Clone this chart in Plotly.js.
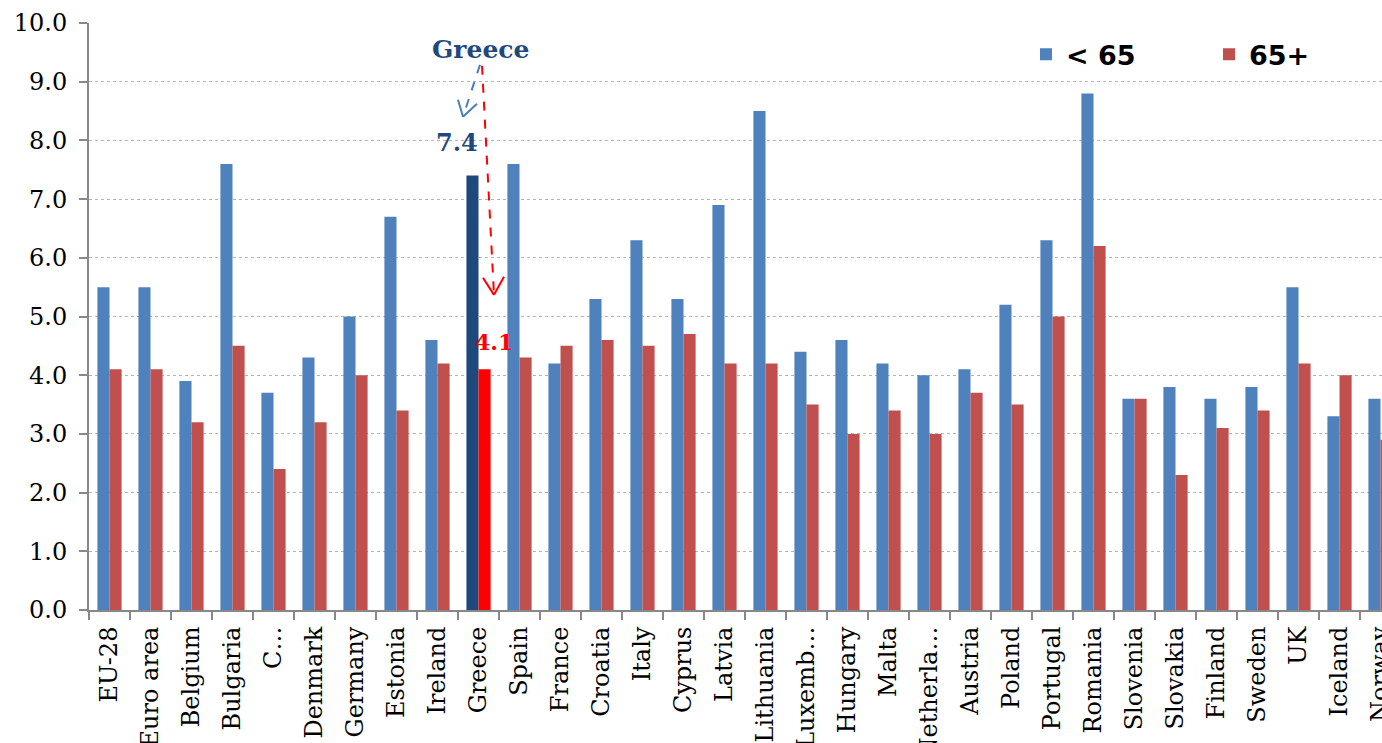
<!DOCTYPE html>
<html>
<head>
<meta charset="utf-8">
<script src="https://cdn.plot.ly/plotly-3.0.1.min.js"></script>
<style>
html,body{margin:0;padding:0;background:#fff;overflow:hidden;}
#chart{width:1382px;height:743px;}
</style>
</head>
<body>
<div id="chart"></div>
<script>
// ---- data ----
const categories = ["EU-28","Euro area","Belgium","Bulgaria","C\u2026","Denmark","Germany","Estonia","Ireland","Greece","Spain","France","Croatia","Italy","Cyprus","Latvia","Lithuania","Luxemb\u2026","Hungary","Malta","Netherla\u2026","Austria","Poland","Portugal","Romania","Slovenia","Slovakia","Finland","Sweden","UK","Iceland","Norway"];
const under65 = [5.5,5.5,3.9,7.6,3.7,4.3,5.0,6.7,4.6,7.4,7.6,4.2,5.3,6.3,5.3,6.9,8.5,4.4,4.6,4.2,4.0,4.1,5.2,6.3,8.8,3.6,3.8,3.6,3.8,5.5,3.3,3.6];
const over65  = [4.1,4.1,3.2,4.5,2.4,3.2,4.0,3.4,4.2,4.1,4.3,4.5,4.6,4.5,4.7,4.2,4.2,3.5,3.0,3.4,3.0,3.7,3.5,5.0,6.2,3.6,2.3,3.1,3.4,4.2,4.0,2.9];
const highlight = "Greece";
const seriesNames = ["&lt; 65","65+"];
const yTicks = [0,1,2,3,4,5,6,7,8,9,10];

// ---- styling ----
const BLUE = "#4F81BD", RED = "#C0504D", DBLUE = "#1F497D", BRED = "#FF0000";
const colU = categories.map(c => c === highlight ? DBLUE : BLUE);
const colO = categories.map(c => c === highlight ? BRED : RED);

// pixel helpers for annotation placement (plot: left 89, bottom 610, 41px/category, 58.67px/unit)
const L = 89, B = 610, CW = 41, UH = 586.7/10;
const px2x = p => (p - L)/CW - 0.5;
const py2y = p => (B - p)/UH;

const traces = [
  {type:"bar", x:categories, y:under65, name:seriesNames[0], marker:{color:colU}, hoverinfo:"none"},
  {type:"bar", x:categories, y:over65, name:seriesNames[1], marker:{color:colO}, hoverinfo:"none"}
];

function seg(x0,y0,x1,y1,color,dash){
  return {type:"line", xref:"x", yref:"y", x0:px2x(x0), y0:py2y(y0), x1:px2x(x1), y1:py2y(y1),
          line:{color:color, width:2, dash:dash||"solid"}};
}
const blueA = "#4A7EBB";
const shapes = [
  seg(480,65,463,117,blueA,"dash"),
  seg(458,100,463,117,blueA), seg(477,104,463,117,blueA),
  seg(482,66,494,295,BRED,"dash"),
  seg(483,278,494,295,BRED), seg(504,277,494,295,BRED)
];

const annFont = (size,color) => ({family:"DejaVu Serif", size:size, color:color, weight:"bold"});
const annotations = [
  {x:px2x(480), y:py2y(50), xref:"x", yref:"y", text:"<b>Greece</b>", showarrow:false, font:annFont(25,DBLUE)},
  {x:px2x(457), y:py2y(143), xref:"x", yref:"y", text:"<b>7.4</b>", showarrow:false, font:annFont(24,DBLUE)},
  {x:px2x(494), y:py2y(342), xref:"x", yref:"y", text:"<b>4.1</b>", showarrow:false, font:annFont(22,BRED)}
];

const layout = {
  width:1382, height:743,
  margin:{l:89, r:0, t:23, b:133, pad:0, autoexpand:false},
  paper_bgcolor:"#fff", plot_bgcolor:"#fff",
  barmode:"group", bargap:0.41, bargroupgap:0,
  font:{family:"DejaVu Serif", color:"#000"},
  showlegend:true,
  legend:{orientation:"h", x:(1026-L)/1293, xanchor:"left", y:py2y(55)/10, yanchor:"middle",
          font:{family:"DejaVu Sans", size:27, color:"#000", weight:"bold"},
          entrywidth:138, entrywidthmode:"pixels", bgcolor:"rgba(0,0,0,0)", traceorder:"normal"},
  xaxis:{type:"category", range:[-0.5, -0.5 + 1293/CW], tickangle:-90, tickson:"boundaries",
         ticks:"outside", ticklen:8, tickcolor:"#888", tickwidth:2, ticklabelstandoff:5,
         showline:true, linecolor:"#888", linewidth:2, showgrid:false, automargin:false,
         tickfont:{family:"DejaVu Serif", size:24, color:"#000"}, fixedrange:true},
  yaxis:{range:[0,10], tickvals:yTicks, tickformat:".1f", ticks:"outside", ticklen:8,
         tickcolor:"#888", tickwidth:2, showline:true, linecolor:"#888", linewidth:2,
         ticklabelstandoff:7,
         showgrid:true, gridcolor:"#b5b5b5", griddash:"dot", gridwidth:1, zeroline:false,
         automargin:false, tickfont:{family:"DejaVu Serif", size:24, color:"#000"}, fixedrange:true},
  shapes:shapes, annotations:annotations
};

Plotly.newPlot("chart", traces, layout, {displayModeBar:false, staticPlot:true});
</script>
</body>
</html>
